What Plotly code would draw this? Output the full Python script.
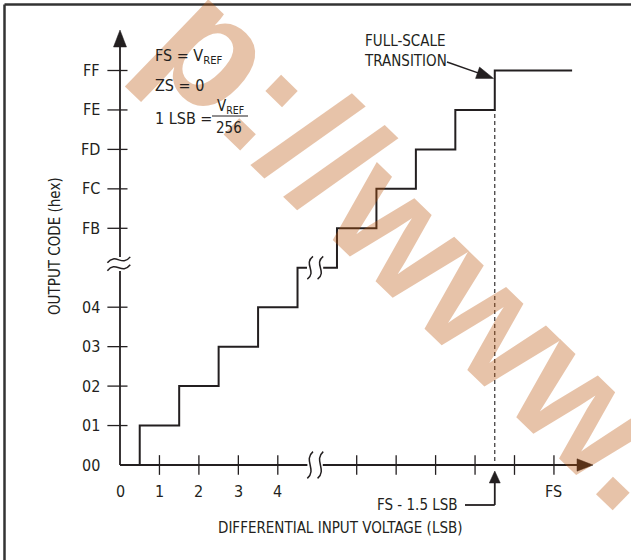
import plotly.graph_objects as go

# ---------------- data ----------------
lower_code_labels = ["00", "01", "02", "03", "04"]          # output codes near zero
upper_code_labels = ["FB", "FC", "FD", "FE", "FF"]          # output codes near full scale
lower_lsb_labels = ["0", "1", "2", "3", "4"]                # input (LSB) near zero
upper_ticks_below_fs = [5, 4, 3, 2, 1, 0]                   # ticks at FS - k LSB
fs_label = "FS"
lower_transitions = [0.5, 1.5, 2.5, 3.5, 4.5]               # code transitions (LSB)
upper_transitions_below_fs = [5.5, 4.5, 3.5, 2.5, 1.5]      # transitions at FS - k LSB
full_scale_transition_below_fs = 1.5

# ---------------- compressed (broken-axis) layout ----------------
FS_POS = 11.0        # position of FS on the compressed x axis
BREAK_X = 4.95
BREAK_Y = 5.0
Y_AXIS_BREAK = 5.1
UPPER_Y0 = 6         # position of code FB

W, H = 631, 560
U = 39.45
X0PX, Y0PX = 120, 465


def dx(px):
    return (px - X0PX) / U


def dy(py):
    return (Y0PX - py) / U


INK = "#231f20"
FONT = "DejaVu Sans Condensed, Liberation Sans Narrow, Arial Narrow, sans-serif"

fig = go.Figure()
shapes = []
annotations = []


def seg(x0, y0, x1, y1, width=1.8, dash=None, color=INK):
    line = dict(color=color, width=width)
    if dash:
        line["dash"] = dash
    shapes.append(dict(type="line", xref="x", yref="y", x0=x0, y0=y0, x1=x1, y1=y1, line=line))


def path(d, fill=None, width=1.5):
    s = dict(type="path", xref="x", yref="y", path=d, line=dict(color=INK, width=width))
    if fill:
        s["fillcolor"] = fill
        s["line"] = dict(color=INK, width=0.5)
    shapes.append(s)


def tri(tip, b1, b2):
    path("M %f,%f L %f,%f L %f,%f Z" % (tip[0], tip[1], b1[0], b1[1], b2[0], b2[1]), fill=INK)


def vsquiggle(xc, yc, w, h):
    path("M %f,%f C %f,%f %f,%f %f,%f" % (xc + w * 0.6, yc + h, xc - w * 1.5, yc + h * 0.35,
                                         xc + w * 1.5, yc - h * 0.35, xc - w * 0.6, yc - h))


def hsquiggle(xc, yc, w, h):
    path("M %f,%f C %f,%f %f,%f %f,%f" % (xc - w, yc - h, xc - w * 0.25, yc + h * 2.6,
                                         xc + w * 0.25, yc - h * 2.6, xc + w, yc + h))


def txt(x, y, text, size=16, xanchor="center", yanchor="middle", xshift=0, yshift=0, **kw):
    annotations.append(dict(x=x, y=y, xref="x", yref="y", text=text, showarrow=False,
                            xanchor=xanchor, yanchor=yanchor, xshift=xshift, yshift=yshift,
                            font=dict(family=FONT, size=size, color=INK), **kw))


# ---------------- watermark (drawn first, under the other texts) ----------------
annotations.append(dict(x=dx(420), y=dy(245), xref="x", yref="y", text="p://www.", showarrow=False,
                        textangle=44, opacity=0.35,
                        font=dict(family="Liberation Sans, Arial, sans-serif", size=164,
                                  color="rgb(189,86,12)", weight="bold")))

# ---------------- frame ----------------
shapes.append(dict(type="line", xref="paper", yref="paper", x0=4.5 / W, x1=1.0,
                   y0=1 - 4.5 / H, y1=1 - 4.5 / H, line=dict(color="#333333", width=2.5)))
shapes.append(dict(type="line", xref="paper", yref="paper", x0=4.5 / W, x1=4.5 / W,
                   y0=0, y1=1 - 4.5 / H, line=dict(color="#333333", width=2.5)))

# ---------------- axes ----------------
y_top_base, y_top_tip = dy(47), dy(30)
x_end_base, x_end_tip = dx(577), dx(593)
ah = 6.5 / U
# y axis (broken)
seg(0, 0, 0, Y_AXIS_BREAK - 0.18)
seg(0, Y_AXIS_BREAK + 0.17, 0, y_top_base)
tri((0, y_top_tip), (-ah, y_top_base), (ah, y_top_base))
hsquiggle(-0.03, Y_AXIS_BREAK + 0.1, 0.29, 0.075)
hsquiggle(-0.03, Y_AXIS_BREAK - 0.1, 0.29, 0.075)
# x axis (broken)
seg(0, 0, BREAK_X - 0.2, 0)
seg(BREAK_X + 0.19, 0, x_end_base, 0)
tri((x_end_tip, 0), (x_end_base, ah * 0.95), (x_end_base, -ah * 0.95))
vsquiggle(BREAK_X - 0.13, 0, 0.12, 0.34)
vsquiggle(BREAK_X + 0.13, 0, 0.12, 0.34)

# y ticks + labels
y_positions = list(range(len(lower_code_labels))) + [UPPER_Y0 + i for i in range(len(upper_code_labels))]
y_labels = lower_code_labels + upper_code_labels
for p, lab in zip(y_positions, y_labels):
    if p != 0:
        seg(-0.32, p, 0.19, p, width=1.3)
    txt(0, p, lab, size=16, xanchor="right", xshift=-18)

# x ticks + labels
for i, lab in enumerate(lower_lsb_labels):
    if i != 0:
        seg(i, -0.25, i, 0.25, width=1.3)
    txt(i, 0, lab, size=16, yshift=-26)
for k in upper_ticks_below_fs:
    seg(FS_POS - k, -0.25, FS_POS - k, 0.25, width=1.3)
txt(FS_POS, 0, fs_label, size=16, yshift=-26)

# ---------------- transfer function ----------------
sx, sy = [0.0], [0.0]
for i, t in enumerate(lower_transitions):
    sx += [t, t]
    sy += [i, i + 1]
sx.append(BREAK_X - 0.21)
sy.append(sy[-1])
fig.add_trace(go.Scatter(x=sx, y=sy, mode="lines", line=dict(color=INK, width=2), hoverinfo="skip"))

ux, uy = [BREAK_X + 0.2], [BREAK_Y]
for i, k in enumerate(upper_transitions_below_fs):
    ux += [FS_POS - k, FS_POS - k]
    uy += [BREAK_Y + i, BREAK_Y + i + 1]
ux.append(FS_POS + 0.46)
uy.append(uy[-1])
fig.add_trace(go.Scatter(x=ux, y=uy, mode="lines", line=dict(color=INK, width=2), hoverinfo="skip"))

vsquiggle(BREAK_X - 0.13, BREAK_Y, 0.12, 0.29)
vsquiggle(BREAK_X + 0.13, BREAK_Y, 0.12, 0.29)

# full-scale transition dashed marker
xft = FS_POS - full_scale_transition_below_fs
seg(xft, 0.1, xft, UPPER_Y0 + len(upper_code_labels) - 2, width=1.1, dash="4px,3px")

# ---------------- titles ----------------
txt(dx(340), dy(528), "DIFFERENTIAL INPUT VOLTAGE (LSB)", size=15)
txt(dx(55), dy(246), "OUTPUT CODE (hex)", size=15, textangle=-90)

# ---------------- definitions ----------------
txt(dx(153), dy(56), "FS = V<sub>REF</sub>", size=16, xanchor="left")
txt(dx(153), dy(85), "ZS = 0", size=16, xanchor="left")
txt(dx(153), dy(118), "1 LSB =", size=16, xanchor="left")
txt(dx(230), dy(106), "V<sub>REF</sub>", size=15)
seg(dx(212), dy(116), dx(248), dy(116), width=1.2)
txt(dx(229), dy(128), "256", size=15)

# ---------------- callouts ----------------
txt(dx(362), dy(51), "FULL-SCALE<br>TRANSITION", size=15, xanchor="left", align="left")
tip = (xft - 0.03, UPPER_Y0 + len(upper_code_labels) - 1 - 0.2)
start = (dx(447), dy(62))
vx, vy = tip[0] - start[0], tip[1] - start[1]
L = (vx ** 2 + vy ** 2) ** 0.5
ux_, uy_ = vx / L, vy / L
hl, hw = 17 / U, 6 / U
base = (tip[0] - ux_ * hl, tip[1] - uy_ * hl)
seg(start[0], start[1], base[0] + ux_ * 0.05, base[1] + uy_ * 0.05, width=1.5)
tri(tip, (base[0] - uy_ * hw, base[1] + ux_ * hw), (base[0] + uy_ * hw, base[1] - ux_ * hw))

txt(dx(460), dy(505), "FS - 1.5 LSB", size=15, xanchor="right")
seg(dx(465), dy(505), xft, dy(505), width=1.8)
seg(xft, dy(505), xft, dy(482), width=1.8)
tri((xft, dy(471)), (xft - 5.5 / U, dy(483)), (xft + 5.5 / U, dy(483)))

fig.update_layout(
    width=W, height=H,
    margin=dict(l=0, r=0, t=0, b=0, pad=0),
    paper_bgcolor="white", plot_bgcolor="white",
    showlegend=False,
    xaxis=dict(range=[dx(0), dx(W)], visible=False, fixedrange=True),
    yaxis=dict(range=[dy(H), dy(0)], visible=False, fixedrange=True),
    shapes=shapes, annotations=annotations,
)
fig.write_html("out.html", config={"displayModeBar": False},
               post_script="document.body.style.margin='0';document.body.style.padding='0';"
                           "document.documentElement.style.overflow='hidden';")
